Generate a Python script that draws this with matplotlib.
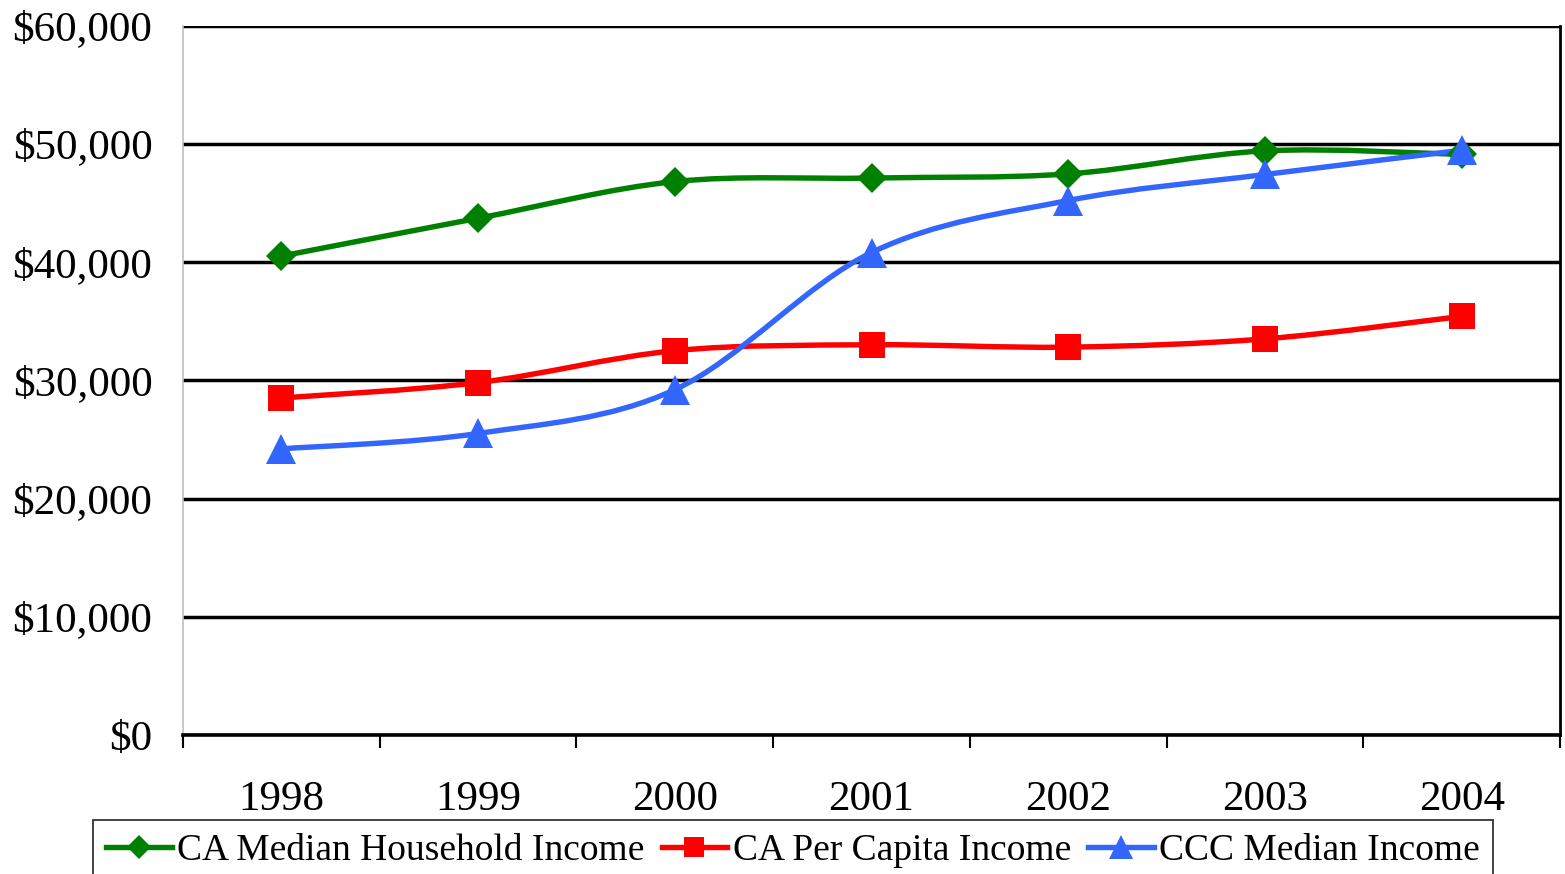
import matplotlib
matplotlib.use("Agg")
import matplotlib.pyplot as plt
from matplotlib.path import Path
from matplotlib.patches import PathPatch
from matplotlib.lines import Line2D
from matplotlib.ticker import FuncFormatter, FixedLocator
import numpy as np

years = ["1998", "1999", "2000", "2001", "2002", "2003", "2004"]
ca_median_household = [40500, 43700, 46800, 47100, 47450, 49400, 49100]
ca_per_capita = [28500, 29800, 32500, 33000, 32800, 33500, 35400]
ccc_median = [24200, 25500, 29200, 40800, 45200, 47400, 49450]

series = [
    ("CA Median Household Income", ca_median_household, "#008000", "D", 15),
    ("CA Per Capita Income", ca_per_capita, "#FF0000", "s", 18.5),
    ("CCC Median Income", ccc_median, "#3366FF", "^", 21),
]

plt.rcParams["font.family"] = ["Liberation Serif", "DejaVu Serif"]

fig = plt.figure(figsize=(15.65, 8.74), dpi=100)
ax = fig.add_axes([183 / 1565, 1 - 735 / 874, (1560 - 183) / 1565, (735 - 25.5) / 874])

x = np.arange(len(years))


def smooth_path(xs, ys):
    pts = np.column_stack([xs, ys]).astype(float)
    n = len(pts)
    verts = [pts[0]]
    codes = [Path.MOVETO]
    for i in range(n - 1):
        p0 = pts[i - 1] if i > 0 else pts[i]
        p1 = pts[i]
        p2 = pts[i + 1]
        p3 = pts[i + 2] if i + 2 < n else pts[i + 1]
        c1 = p1 + (p2 - p0) / 6.0
        c2 = p2 - (p3 - p1) / 6.0
        verts += [c1, c2, p2]
        codes += [Path.CURVE4] * 3
    return Path(verts, codes)


LW = 3.9
handles = []
for label, vals, color, marker, ms in series:
    patch = PathPatch(smooth_path(x, vals), facecolor="none", edgecolor=color,
                      linewidth=LW, zorder=3, capstyle="round", joinstyle="round")
    ax.add_patch(patch)
    ax.plot(x, vals, linestyle="none", marker=marker, markersize=ms,
            color=color, markeredgewidth=0, zorder=4, clip_on=False)
    handles.append(Line2D([], [], color=color, linewidth=LW, marker=marker,
                          markersize=ms * 0.8, markeredgewidth=0, label=label))

ax.set_xlim(-0.5, len(years) - 0.5)
ax.set_ylim(0, 60000)

ax.yaxis.set_major_locator(FixedLocator(np.arange(0, 60001, 10000)))
ax.yaxis.set_major_formatter(FuncFormatter(lambda v, p: "${:,.0f}".format(v)))
ax.grid(axis="y", color="black", linewidth=2.5, zorder=1)
ax.set_axisbelow(True)
ax.tick_params(axis="y", length=0, pad=22, labelsize=31)

ax.xaxis.set_major_locator(FixedLocator(np.arange(-0.5, len(years), 1.0)))
ax.xaxis.set_major_formatter(FuncFormatter(lambda v, p: ""))
ax.xaxis.set_minor_locator(FixedLocator(x))
ax.set_xticks(x, minor=True)
ax.set_xticklabels(years, minor=True)
ax.tick_params(axis="x", which="major", length=9, width=1.5, direction="out", color="black")
ax.tick_params(axis="x", which="minor", length=0, pad=33, labelsize=31)

ax.spines["top"].set_visible(False)
ax.spines["left"].set_color("#C0C0C0")
ax.spines["left"].set_linewidth(1.2)
ax.spines["right"].set_color("black")
ax.spines["right"].set_linewidth(2.0)
ax.spines["bottom"].set_color("black")
ax.spines["bottom"].set_linewidth(2.6)

leg = fig.legend(handles=handles, loc="upper left",
                 bbox_to_anchor=(93 / 1565, 1 - 820 / 874), ncol=3,
                 frameon=True, fancybox=False, edgecolor="black", fontsize=27,
                 handlelength=1.75, handletextpad=0.15, columnspacing=0.45,
                 borderpad=0.35, borderaxespad=0)
leg.get_frame().set_linewidth(1.3)

fig.savefig("out.png", dpi=100)
